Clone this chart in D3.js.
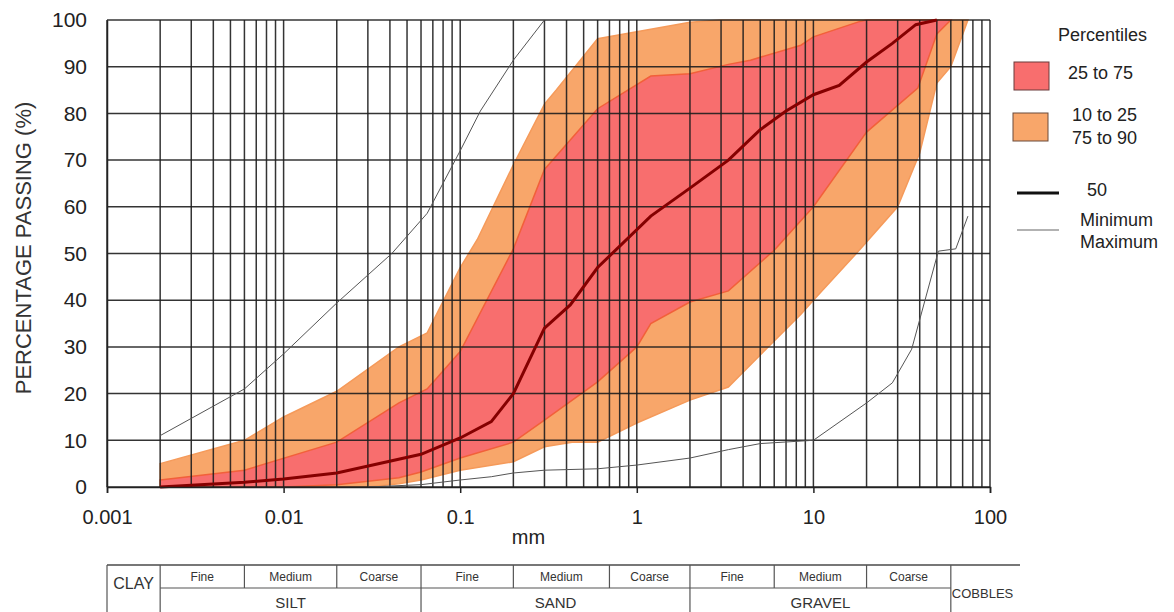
<!DOCTYPE html>
<html><head><meta charset="utf-8">
<script src="https://cdn.jsdelivr.net/npm/d3@7"></script>
<style>body{margin:0;background:#fff;} svg{display:block;font-family:"Liberation Sans",Arial,sans-serif;}</style>
</head><body>
<svg id="c" width="1174" height="612"></svg>
<script>
// ---- data ----
const xTickValues = [0.001, 0.01, 0.1, 1, 10, 100];
const xTickLabels = ["0.001", "0.01", "0.1", "1", "10", "100"];
const yTickValues = [0, 10, 20, 30, 40, 50, 60, 70, 80, 90, 100];

const p50 = [[0.002,0],[0.006,1],[0.01,1.7],[0.02,3],[0.06,7],[0.1,10.5],[0.15,14],[0.2,20],[0.3,34],[0.42,39],[0.6,47],[1.2,58],[2,64],[3.3,70],[5,76.5],[7,80.5],[10,84],[14,86],[20,91],[28,95],[38,99],[50,100]];
const pMax = [[0.002,11],[0.006,21],[0.01,28.5],[0.02,39.4],[0.041,50],[0.065,58.6],[0.1,72],[0.13,80.5],[0.2,91.4],[0.3,100]];
const pMin = [[0.03,0],[0.06,0.5],[0.1,1.5],[0.15,2.2],[0.2,3],[0.3,3.6],[0.6,3.9],[1,4.7],[2,6.2],[3.3,8],[5,9.3],[10,10],[20,18],[28,22.3],[36,29.5],[51,50.5],[64,51],[75,58]];
const p90 = [[0.002,5],[0.006,10],[0.01,15],[0.02,20.5],[0.045,30],[0.065,33],[0.1,47],[0.125,53],[0.2,69],[0.3,82],[0.35,85],[0.6,96],[2,99.5],[3,100],[75,100]];
const p75 = [[0.002,1.5],[0.006,3.6],[0.02,9.6],[0.045,18],[0.065,21],[0.1,29],[0.2,51],[0.3,68],[0.6,81],[1.2,88],[2,88.5],[3.3,90.5],[4.4,91.4],[8.5,94.6],[10,96.4],[18,99.6],[20,100],[60,100]];
const p25 = [[0.002,0],[0.01,0],[0.02,0.5],[0.045,2],[0.06,3.2],[0.1,6.2],[0.2,9.6],[0.3,14.3],[0.6,22.5],[1,30],[1.2,35],[2,39.6],[3.3,42],[6,50.7],[10,60],[20,76],[39,85.4],[50,97],[60,100]];
const p10 = [[0.002,0],[0.03,0],[0.045,0.7],[0.06,1.5],[0.1,3.6],[0.2,5.4],[0.3,8.6],[0.43,9.6],[0.6,9.6],[1,13.7],[2,18.6],[3.3,21.4],[8.5,37],[10,40],[18.5,51],[30,60],[40,71.5],[50,86.5],[60,90],[75,100]];

const tableBounds = [0.002, 0.006, 0.02, 0.06, 0.2, 0.7, 2, 6, 20, 60];
const subLabels = ["Fine","Medium","Coarse","Fine","Medium","Coarse","Fine","Medium","Coarse"];
const mainLabels = [["SILT",0.002,0.06],["SAND",0.06,2],["GRAVEL",2,60]];
const mainBounds = [0.002, 0.06, 2, 60];

// ---- layout ----
const svg = d3.select("#c");
const L = 107, R = 990, T = 20, B = 487;
const x = d3.scaleLog().domain([0.001, 100]).range([L, R]);
const y = d3.scaleLinear().domain([0, 100]).range([B, T]);

const RED = "#f86e6e", ORANGE = "#f8a66a";
const line = d3.line().x(d => x(d[0])).y(d => y(d[1]));

// bands
const band = (up, lo) => up.concat(lo.slice().reverse());
svg.append("path").attr("d", line(band(p90, p10)) + "Z")
  .attr("fill", ORANGE).attr("stroke", "#f59a5a").attr("stroke-width", 1.5);
svg.append("path").attr("d", line(band(p75, p25)) + "Z")
  .attr("fill", RED).attr("stroke", "#f2603a").attr("stroke-width", 1.5);

// grid
const gridX = [];
for (let e = -3; e <= 1; e++) for (let k = 1; k <= 9; k++) gridX.push(k * Math.pow(10, e));
gridX.push(100);
const g = svg.append("g").attr("stroke", "#1e1e1e").attr("stroke-width", 1.5).attr("stroke-opacity", 0.9);
g.selectAll(".vx").data(gridX).join("line")
  .attr("x1", d => x(d)).attr("x2", d => x(d)).attr("y1", T).attr("y2", B);
g.selectAll(".hy").data(yTickValues).join("line")
  .attr("x1", L).attr("x2", R).attr("y1", d => y(d)).attr("y2", d => y(d));

// min / max
svg.append("path").attr("d", line(pMax)).attr("fill", "none").attr("stroke", "#555").attr("stroke-width", 1);
svg.append("path").attr("d", line(pMin)).attr("fill", "none").attr("stroke", "#555").attr("stroke-width", 1);
// median
svg.append("path").attr("d", line(p50)).attr("fill", "none").attr("stroke", "#850000").attr("stroke-width", 3);

// axes
const xa = svg.append("g").attr("transform", `translate(0,${B})`)
  .call(d3.axisBottom(x).tickValues(xTickValues).tickFormat((d, i) => xTickLabels[i]).tickSize(6).tickPadding(17));
xa.select(".domain").attr("stroke", "#222").attr("stroke-width", 1.5);
xa.selectAll(".tick line").attr("stroke", "#222").attr("stroke-width", 1.5);
xa.selectAll("text").attr("font-size", 20).attr("fill", "#222").attr("font-family", "Liberation Sans, Arial");

const ya = svg.append("g").attr("transform", `translate(${L},0)`)
  .call(d3.axisLeft(y).tickValues(yTickValues).tickSize(0).tickPadding(20));
ya.select(".domain").attr("stroke", "#222").attr("stroke-width", 1.5);
ya.selectAll("text").attr("font-size", 21).attr("fill", "#222").attr("font-family", "Liberation Sans, Arial");

svg.append("text").attr("x", (L + R) / 2 - 20).attr("y", 544).attr("text-anchor", "middle")
  .attr("font-size", 20).attr("fill", "#222").text("mm");
svg.append("text").attr("transform", "translate(31,248) rotate(-90)").attr("text-anchor", "middle")
  .attr("font-size", 22).attr("fill", "#333").text("PERCENTAGE PASSING (%)");

// legend
const lg = svg.append("g").attr("font-size", 18).attr("fill", "#222");
lg.append("text").attr("x", 1058).attr("y", 35).attr("dy", "0.35em").text("Percentiles");
lg.append("rect").attr("x", 1014).attr("y", 62).attr("width", 35).attr("height", 28).attr("fill", RED).attr("stroke", "#6a3a3a");
lg.append("text").attr("x", 1068).attr("y", 73).attr("dy", "0.35em").text("25 to 75");
lg.append("rect").attr("x", 1013).attr("y", 113).attr("width", 35).attr("height", 28).attr("fill", ORANGE).attr("stroke", "#6a4a3a");
lg.append("text").attr("x", 1072).attr("y", 115).attr("dy", "0.35em").text("10 to 25");
lg.append("text").attr("x", 1072).attr("y", 138).attr("dy", "0.35em").text("75 to 90");
lg.append("line").attr("x1", 1017).attr("x2", 1059).attr("y1", 193).attr("y2", 193).attr("stroke", "#111").attr("stroke-width", 3);
lg.append("text").attr("x", 1087).attr("y", 190).attr("dy", "0.35em").text("50");
lg.append("line").attr("x1", 1017).attr("x2", 1059).attr("y1", 230).attr("y2", 230).attr("stroke", "#666").attr("stroke-width", 1.2);
lg.append("text").attr("x", 1080).attr("y", 220).attr("dy", "0.35em").text("Minimum");
lg.append("text").attr("x", 1080).attr("y", 242).attr("dy", "0.35em").text("Maximum");

// classification table
const tT = 565, tM = 588, tB = 630, tR = 1020;
const tg = svg.append("g").attr("stroke", "#555").attr("stroke-width", 1.2);
tg.append("line").attr("x1", x(0.001)).attr("x2", tR).attr("y1", tT).attr("y2", tT).attr("stroke", "#777").attr("stroke-width", 2);
tg.append("line").attr("x1", x(0.001)).attr("x2", x(0.001)).attr("y1", tT).attr("y2", tB);
tg.append("line").attr("x1", x(0.002)).attr("x2", x(60)).attr("y1", tM).attr("y2", tM);
tg.selectAll(".tb").data(tableBounds).join("line")
  .attr("x1", d => x(d)).attr("x2", d => x(d)).attr("y1", tT)
  .attr("y2", d => mainBounds.includes(d) ? tB : tM);
const tt = svg.append("g").attr("fill", "#333").attr("text-anchor", "middle");
tt.selectAll(".sl").data(subLabels).join("text")
  .attr("x", (d, i) => (x(tableBounds[i]) + x(tableBounds[i + 1])) / 2)
  .attr("y", 577).attr("dy", "0.35em").attr("font-size", 12).text(d => d);
tt.selectAll(".ml").data(mainLabels).join("text")
  .attr("x", d => (x(d[1]) + x(d[2])) / 2).attr("y", 603).attr("dy", "0.35em")
  .attr("font-size", 15).text(d => d[0]);
tt.append("text").attr("x", (x(0.001) + x(0.002)) / 2).attr("y", 583).attr("dy", "0.35em").attr("font-size", 16).text("CLAY");
tt.append("text").attr("x", x(60) + 1).attr("y", 593).attr("dy", "0.35em").attr("font-size", 13).attr("text-anchor", "start").text("COBBLES");
</script>
</body></html>
